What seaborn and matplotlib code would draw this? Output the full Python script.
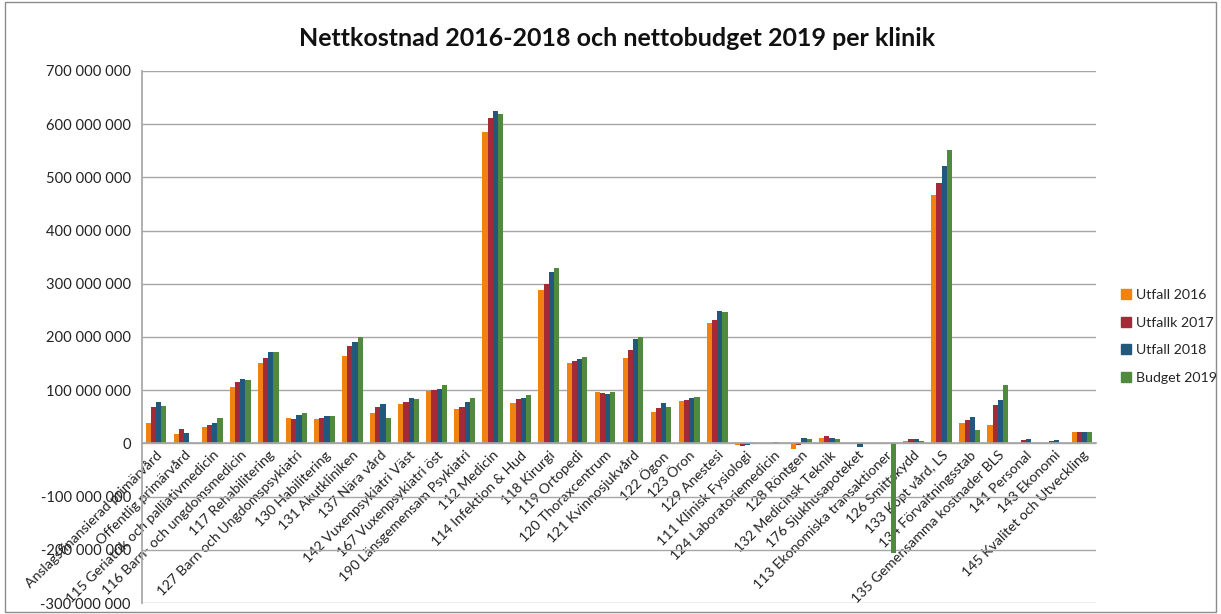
import matplotlib
matplotlib.use("Agg")
import matplotlib.pyplot as plt
import matplotlib.patches as mpatches
import seaborn as sns
import pandas as pd

categories = [
    "Anslagsfinansierad primärvård", "Offentlig primärvård",
    "115 Geriatrik och palliativmedicin", "116 Barn- och ungdomsmedicin",
    "117 Rehabilitering", "127 Barn och Ungdomspsykiatri", "130 Habilitering",
    "131 Akutkliniken", "137 Nära vård", "142 Vuxenpsykiatri Väst",
    "167 Vuxenpsykiatri öst", "190 Länsgemensam Psykiatri", "112 Medicin",
    "114 Infektion & Hud", "118 Kirurgi", "119 Ortopedi", "120 Thoraxcentrum",
    "121 Kvinnosjukvård", "122 Ögon", "123 Öron", "129 Anestesi",
    "111 Klinisk Fysiologi", "124 Laboratoriemedicin", "128 Röntgen",
    "132 Medicinsk Teknik", "176 Sjukhusapoteket", "113 Ekonomiska transaktioner",
    "126 Smittskydd", "133 Köpt vård, LS", "134 Förvaltningsstab",
    "135 Gemensamma kostnader BLS", "141 Personal", "143 Ekonomi",
    "145 Kvalitet och Utveckling",
]

series = ["Utfall 2016", "Utfallk 2017", "Utfall 2018", "Budget 2019"]

# values in millions SEK
utfall_2016 = [37.6, 18.2, 30.7, 106.0, 151.8, 48.3, 45.8, 164.4, 57.1, 74.0,
               99.1, 65.2, 584.7, 76.5, 288.6, 151.2, 96.0, 160.6, 59.6, 79.0,
               226.5, -2.5, 0.6, -11.3, 10.7, 0.0, 0.0, 5.0, 466.7, 37.6,
               35.1, 0.0, 0.0, 20.7]
utfall_2017 = [67.8, 27.6, 35.1, 115.4, 160.6, 45.8, 47.1, 183.2, 69.0, 77.2,
               100.4, 67.8, 612.3, 83.4, 299.9, 155.0, 94.7, 176.3, 66.5, 80.9,
               231.5, -4.4, 0.3, -2.5, 14.4, 0.0, 0.0, 7.5, 489.3, 43.9,
               71.5, 6.3, 5.0, 20.7]
utfall_2018 = [77.2, 19.4, 37.6, 121.7, 171.3, 53.3, 52.1, 190.7, 74.0, 86.0,
               102.9, 77.2, 625.5, 86.0, 323.1, 159.3, 92.8, 197.0, 75.3, 86.0,
               248.4, -3.0, 3.0, 10.7, 10.7, -6.3, 0.0, 7.5, 520.7, 49.6,
               80.9, 7.5, 6.3, 22.0]
budget_2019 = [70.9, 0.0, 48.3, 119.2, 172.5, 57.7, 52.1, 199.5, 47.1, 83.4,
               110.4, 84.7, 618.6, 91.0, 330.6, 161.9, 96.6, 199.5, 69.0, 86.6,
               247.2, -1.3, 0.0, 8.2, 8.8, 1.3, -206.0, 5.0, 550.8, 24.5,
               110.4, 0.0, 0.0, 22.0]

colors = ["#F0820F", "#A32B38", "#22587C", "#4F8A3E"]
yticks = [-300e6, -200e6, -100e6, 0, 100e6, 200e6, 300e6, 400e6, 500e6, 600e6, 700e6]

rows = []
for s, vals in zip(series, [utfall_2016, utfall_2017, utfall_2018, budget_2019]):
    for c, v in zip(categories, vals):
        rows.append({"Klinik": c, "Serie": s, "Värde": v * 1e6})
df = pd.DataFrame(rows)

sns.set_theme(style="white")
plt.rcParams["font.family"] = ["Lato", "DejaVu Sans"]

fig = plt.figure(figsize=(12.21, 6.14), dpi=100)
ax = fig.add_axes([0.1163, 0.0179, 0.7813, 0.8665])

sns.barplot(data=df, x="Klinik", y="Värde", hue="Serie", order=categories,
            hue_order=series, palette=colors, errorbar=None, width=0.74,
            saturation=1, ax=ax, legend=False, linewidth=0)

ax.set_ylim(-300e6, 700e6)
ax.set_xlim(-0.5, len(categories) - 0.5)
ax.set_yticks(yticks)
ax.set_yticklabels([f"{int(v):,}".replace(",", " ") for v in yticks],
                   fontsize=10.6, color="#222222")
ax.yaxis.grid(True, color="#A6A6A6", linewidth=1)
ax.set_axisbelow(True)
ax.set_xlabel("")
ax.set_ylabel("")

ax.spines["top"].set_visible(False)
ax.spines["right"].set_visible(False)
ax.spines["left"].set_color("#A6A6A6")
ax.spines["bottom"].set_color("#A6A6A6")
ax.spines["bottom"].set_position(("data", 0))

ax.set_xticks(range(len(categories)))
ax.set_xticklabels(categories, rotation=45, ha="right", va="top",
                   rotation_mode="anchor", fontsize=10.2, color="#222222")
ax.tick_params(axis="x", length=0, pad=4)
ax.tick_params(axis="y", length=0, pad=8)

handles = [mpatches.Patch(color=c, label=s) for c, s in zip(colors, series)]
fig.legend(handles=handles, loc="center left", bbox_to_anchor=(0.908, 0.452),
           frameon=False, fontsize=10.2, handlelength=0.7, handleheight=0.7,
           handletextpad=0.3, labelspacing=1.12)

fig.text(0.505, 0.937, "Nettkostnad 2016-2018 och nettobudget 2019 per klinik",
         ha="center", va="center", fontsize=18, fontweight="bold", color="#111111")

fig.patches.append(mpatches.Rectangle((0.004, 0.004), 0.992, 0.992,
                                      transform=fig.transFigure, fill=False,
                                      edgecolor="#8C8C8C", linewidth=1))

fig.savefig("out.png", dpi=100)
